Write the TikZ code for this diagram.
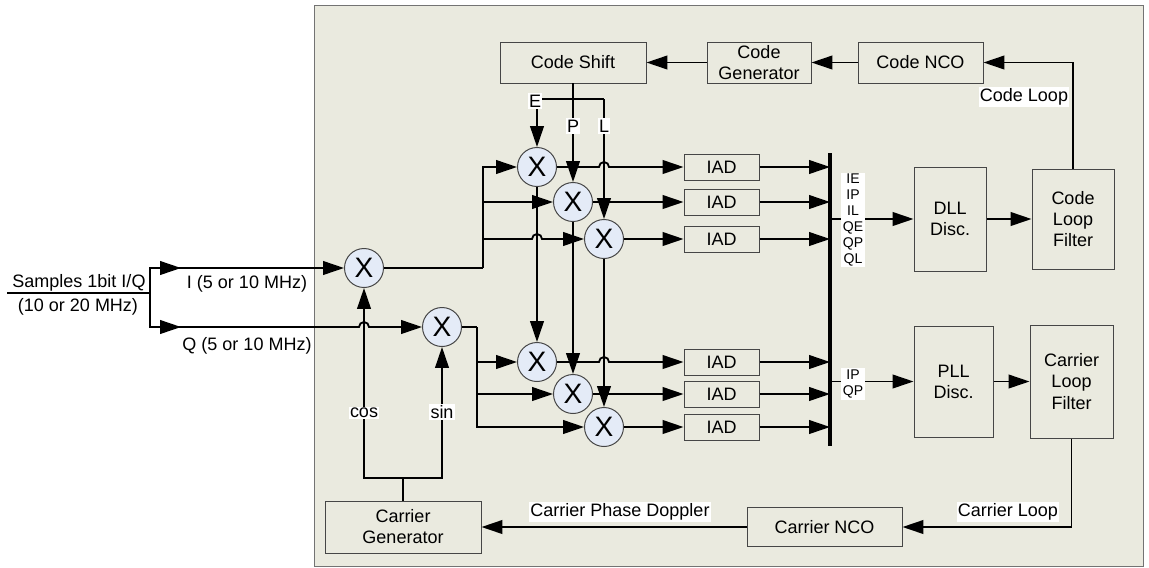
\documentclass[tikz,border=0pt]{standalone}
\usepackage{fontspec}
\setmainfont{Liberation Sans}
\usetikzlibrary{arrows.meta,positioning,calc}
\usepackage{xcolor}
\definecolor{Panel}{RGB}{234,234,223}
\definecolor{MixBlue}{RGB}{228,235,247}
\definecolor{Frame}{RGB}{70,70,70}
\newcommand\pxu{0.025cm}
\tikzset{
  blk/.style={rectangle,draw=Frame,line width=0.7pt,fill=Panel,align=center,
              inner sep=1pt},
  iad/.style={blk,minimum width=75*\pxu,minimum height=26*\pxu},
  mixr/.style={circle,draw=Frame,line width=0.7pt,fill=MixBlue,minimum size=39*\pxu,
               inner sep=0pt,font=\fontsize{20}{20}\selectfont},
  wire/.style={line width=1.3pt},
  sig/.style={wire,-{Triangle[length=0.52cm,width=0.34cm]}},
  tag/.style={fill=white,inner sep=1pt},
  small/.style={font=\fontsize{10}{11.3}\selectfont,align=center},
  bus/.style={line width=2.6pt},
}
\begin{document}
\begin{tikzpicture}[x=\pxu,y=-\pxu,font=\fontsize{12.8}{15}\selectfont]
  \useasboundingbox (0,0) rectangle (1149,567);
  \draw[draw=black!55,fill=Panel] (314,5) rectangle (1143,566);
  %
  \node[blk,minimum width=146*\pxu,minimum height=41*\pxu] (cshift) at (573,62.5) {Code Shift};
  \node[blk,minimum width=104*\pxu,minimum height=41*\pxu] (cgen) at (759,62.5) {Code\\Generator};
  \node[blk,minimum width=125*\pxu,minimum height=41*\pxu] (cnco) at (920.5,62.5) {Code NCO};
  \node[blk,minimum width=72*\pxu,minimum height=104*\pxu] (dll) at (950,219) {DLL\\Disc.};
  \node[blk,minimum width=82*\pxu,minimum height=100*\pxu] (clf) at (1073,219) {Code\\Loop\\Filter};
  \node[blk,minimum width=79*\pxu,minimum height=111*\pxu] (pll) at (953.5,381.5) {PLL\\Disc.};
  \node[blk,minimum width=83*\pxu,minimum height=113*\pxu] (carlf) at (1071.5,381.5) {Carrier\\Loop\\Filter};
  \node[blk,minimum width=155*\pxu,minimum height=39*\pxu] (carnco) at (824.5,527) {Carrier NCO};
  \node[blk,minimum width=156*\pxu,minimum height=52*\pxu] (cargen) at (403,527) {Carrier\\Generator};
  %
  \node[mixr] (mi) at (364,268) {X};
  \node[mixr] (mq) at (442,327) {X};
  \node[mixr] (ie) at (537,167) {X};
  \node[mixr] (ip) at (573,202) {X};
  \node[mixr] (il) at (604,239) {X};
  \node[mixr] (qe) at (537,362) {X};
  \node[mixr] (qp) at (573,394) {X};
  \node[mixr] (ql) at (604,427) {X};
  %
  \coordinate (iadcol) at (721.5,0);
  \foreach \m [count=\k] in {ie,ip,il,qe,qp,ql}
    \node[iad] (iad\k) at (iadcol |- \m) {IAD};
  \coordinate (bustop) at (830,153);
  \coordinate (busbot) at (830,446);
  \draw[bus] (bustop) -- (busbot);
  \foreach \k in {1,...,6}
    \draw[sig] (iad\k.east) -- (iad\k.east -| bustop);
  %
  \draw[sig] (dll.west -| bustop) -- (dll.west);
  \node[tag,small] (dlltag) at (853,220) {IE\\IP\\IL\\QE\\QP\\QL};
  \draw[sig] (pll.west -| bustop) -- (pll.west);
  \node[tag,small] (plltag) at (853,384) {IP\\QP};
  \draw[sig] (dll.east) -- (clf.west);
  \draw[sig] (pll.east) -- (carlf.west);
  %
  \draw[sig] (cnco.west) -- (cgen.east);
  \draw[sig] (cgen.west) -- (cshift.east);
  \draw[sig] (clf.north) |- (cnco.east);
  \node[tag] (cltag) at (1024,97) {Code Loop};
  \draw[sig] (carlf.south) |- (carnco.east);
  \node[tag] (caltag) at (1008,512) {Carrier Loop};
  \draw[sig] (carnco.west) -- (carnco.west -| cargen.east);
  \node[tag] (dopptag) at (620,512) {Carrier Phase Doppler};
  %
  \coordinate (colE) at (537,99);
  \coordinate (colL) at (604,99);
  \draw[wire] (colE) -- (colL);
  \draw[sig] (cshift.south) -- (ip.north);
  \draw[sig] (colE) -- (ie.north);
  \draw[sig] (colL) -- (il.north);
  \draw[sig] (ie.south) -- (qe.north);
  \draw[sig] (ip.south) -- (qp.north);
  \draw[sig] (il.south) -- (ql.north);
  \node[tag] (etag) at (535,101) {E};
  \node[tag] (ptag) at (573,126) {P};
  \node[tag] (ltag) at (604,126) {L};
  %
  \coordinate (src) at (7,293);
  \coordinate (spl) at (150,293);
  \coordinate (imid) at (181,268);
  \coordinate (qmid) at (181,327);
  \draw[wire] (src) -- (spl);
  \draw[sig] (spl) |- (mi.west);
  \draw[sig] (spl |- imid) -- (imid);
  \draw[sig] (spl) |- ($(mq.west -| mi)+(-5,0)$)
    arc[start angle=180,end angle=0,radius=0.125cm] -- (mq.west);
  \draw[sig] (spl |- qmid) -- (qmid);
  \node (smptag) at (79,283) {Samples 1bit I/Q};
  \node (ratetag) at (78,307) {(10 or 20 MHz)};
  \node (itag) at (247,284) {I (5 or 10 MHz)};
  \node (qtag) at (247,346) {Q (5 or 10 MHz)};
  %
  \coordinate (carjoin) at (403,478);
  \draw[wire] (cargen.north) -- (carjoin);
  \draw[sig] (carjoin) -| (mi.south);
  \draw[sig] (carjoin) -| (mq.south);
  \node[tag] (costag) at (364,413) {cos};
  \node[tag] (sintag) at (442,412) {sin};
  %
  \coordinate (isp) at (483,268);
  \draw[wire] (mi.east) -- (isp);
  \draw[sig] (isp) |- (ie.west);
  \draw[sig] (isp |- ip) -- (ip.west);
  \draw[sig] (isp |- il) -- ($(il -| colE)+(-5,0)$)
    arc[start angle=180,end angle=0,radius=0.125cm] -- (il.west);
  \coordinate (qsp) at (477,327);
  \draw[wire] (mq.east) -- (qsp);
  \draw[sig] (qsp) |- (ql.west);
  \draw[sig] (qsp |- qe) -- (qe.west);
  \draw[sig] (qsp |- qp) -- (qp.west);
  %
  \draw[sig] (ie.east) -- ($(ie -| colL)+(-5,0)$)
    arc[start angle=180,end angle=0,radius=0.125cm] -- (iad1.west);
  \draw[sig] (qe.east) -- ($(qe -| colL)+(-5,0)$)
    arc[start angle=180,end angle=0,radius=0.125cm] -- (iad4.west);
  \draw[sig] (ip.east) -- (iad2.west);
  \draw[sig] (il.east) -- (iad3.west);
  \draw[sig] (qp.east) -- (iad5.west);
  \draw[sig] (ql.east) -- (iad6.west);
\end{tikzpicture}
\end{document}
